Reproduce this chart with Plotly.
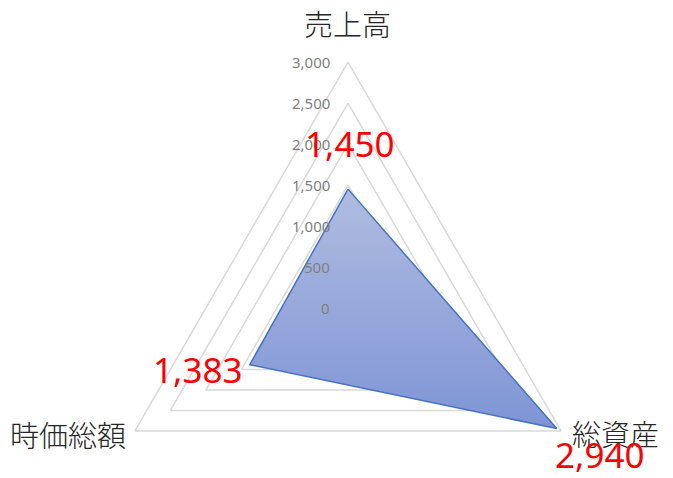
import numpy as np
import plotly.graph_objects as go

# radar data (clockwise from top)
categories = ["売上高", "総資産", "時価総額"]
values = [1450, 2940, 1383]
value_labels = ["1,450", "2,940", "1,383"]

grid_levels = [0, 500, 1000, 1500, 2000, 2500, 3000]
tick_labels = ["0", "500", "1,000", "1,500", "2,000", "2,500", "3,000"]

angles = np.deg2rad(90 - 120 * np.arange(len(categories)))


def to_xy(r):
    r = np.asarray(r, dtype=float)
    return r * np.cos(angles), r * np.sin(angles)


def closed(a):
    return np.append(a, a[0])


fig = go.Figure()

# polygon gridlines
for lvl in grid_levels[1:]:
    gx, gy = to_xy([lvl] * len(categories))
    fig.add_scatter(x=closed(gx), y=closed(gy), mode="lines",
                    line=dict(color="#d9d9d9", width=1.5),
                    hoverinfo="skip", showlegend=False)

# data series
dx, dy = to_xy(values)
fig.add_scatter(
    x=closed(dx), y=closed(dy), mode="lines", fill="toself",
    fillgradient=dict(type="vertical",
                      colorscale=[[0, "rgb(126,148,214)"], [1, "rgb(176,188,224)"]]),
    line=dict(color="#4472c4", width=1.5),
    showlegend=False,
)

annotations = []

# radial tick labels
for lvl, txt in zip(grid_levels, tick_labels):
    annotations.append(dict(
        x=0, y=lvl, text=txt, showarrow=False, xanchor="right",
        xshift=-16, font=dict(family="Noto Sans", size=15, color="#7f7f7f"),
    ))

# category labels
ox, oy = to_xy([grid_levels[-1]] * len(categories))
cat_shift = [(0, 39), (54, -2), (-67, -3)]
for cx, cy, name, (sx, sy) in zip(ox, oy, categories, cat_shift):
    annotations.append(dict(
        x=cx, y=cy, text=name, showarrow=False, xshift=sx, yshift=sy,
        font=dict(family="Noto Sans CJK JP", size=29, color="#262626", weight=300),
    ))

# value labels
val_shift = [(2, 46), (43, -26), (-52, -5)]
for vx, vy, txt, (sx, sy) in zip(dx, dy, value_labels, val_shift):
    annotations.append(dict(
        x=vx, y=vy, text=txt, showarrow=False, xshift=sx, yshift=sy,
        font=dict(family="Noto Sans", size=35, color="#ff0000"),
    ))

fig.update_layout(
    width=673, height=478,
    margin=dict(l=0, r=0, t=0, b=0),
    paper_bgcolor="white", plot_bgcolor="white",
    xaxis=dict(range=[-4146, 4061], visible=False),
    yaxis=dict(range=[-2171, 3659], visible=False),
    annotations=annotations,
)

fig.write_html("out.html")
